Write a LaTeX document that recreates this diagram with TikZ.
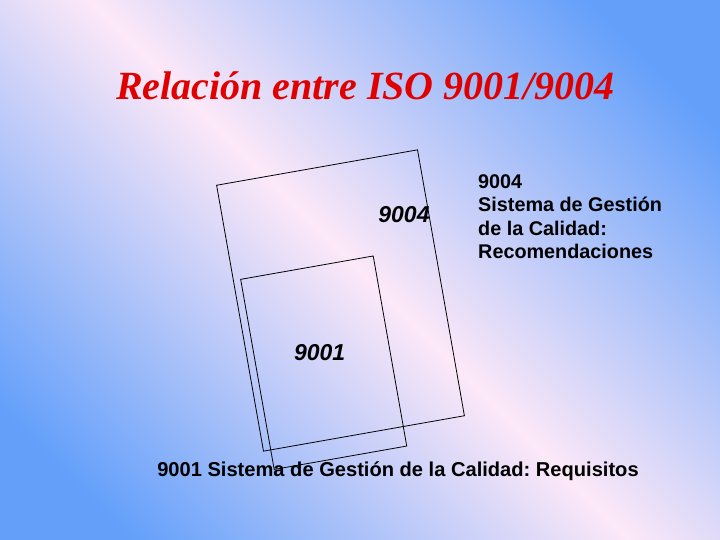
\documentclass[tikz,border=0pt]{standalone}
\usepackage{fontspec}
\setmainfont{Liberation Serif}
\setsansfont{Liberation Sans}
\usepackage{tikz}
\usetikzlibrary{positioning}
\frenchspacing
\definecolor{slideblue}{RGB}{100,160,250}
\definecolor{slidepink}{RGB}{252,232,248}
\definecolor{titlered}{RGB}{225,0,0}
\pgfdeclareverticalshading{slideshading}{100bp}{color(0bp)=(slideblue); color(22bp)=(slideblue); color(50bp)=(slidepink); color(78bp)=(slideblue); color(100bp)=(slideblue)}
\tikzset{
    title style/.style={font=\fontsize{40}{40}\selectfont\bfseries\itshape,text=titlered,inner sep=0pt},
    iso box/.style={draw=black,line width=0.8pt,inner sep=0pt,rotate=10},
    box label/.style={font=\fontsize{23}{23}\selectfont\sffamily\bfseries\itshape,inner sep=0pt},
    desc text/.style={font=\fontsize{19.8}{23.3}\selectfont\sffamily\bfseries,inner sep=0pt},
}
\begin{document}
\begin{tikzpicture}[x=1pt,y=-1pt]
        \shade[shading=slideshading,shading angle=-45] (0,0) rectangle (720,540);
        \useasboundingbox (0,0) rectangle (720,540);
        \node[title style,anchor=base] (title) at (365.5,100) {Relación entre ISO 9001/9004};
        \node[iso box,minimum width=204pt,minimum height=270pt] (box9004) at (340.5,300.5) {};
        \node[iso box,minimum width=134.6pt,minimum height=193pt] (box9001) at (323.7,362.7) {};
        \node[box label] (lab9004) at (404,215) {9004};
        \node[box label] (lab9001) at (319.7,352.3) {9001};
        \node[desc text,anchor=north west,align=left] (desc9004) at (478,174.4) {9004\\Sistema de Gestión\\de la Calidad:\\Recomendaciones};
        \node[desc text,font=\fontsize{20.1}{24}\selectfont\sffamily\bfseries,anchor=base] (desc9001) at (398,476.7) {9001 Sistema de Gestión de la Calidad: Requisitos};
    \end{tikzpicture}
\end{document}
